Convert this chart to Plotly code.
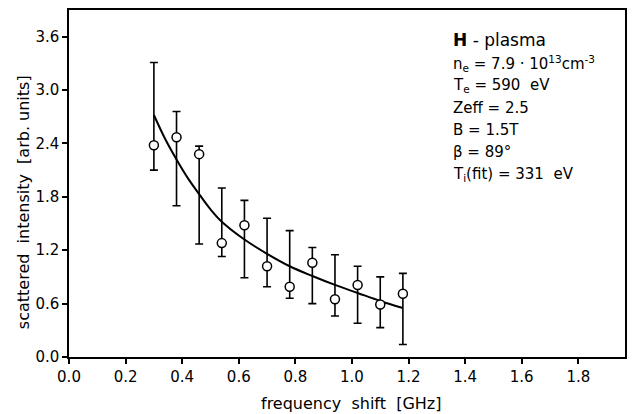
import plotly.graph_objects as go

# Measured data
freq = [0.30, 0.38, 0.46, 0.54, 0.62, 0.70, 0.78, 0.86, 0.94, 1.02, 1.10, 1.18]
intensity = [2.38, 2.47, 2.28, 1.28, 1.48, 1.02, 0.79, 1.06, 0.65, 0.81, 0.59, 0.71]
err_hi = [3.31, 2.76, 2.37, 1.90, 1.76, 1.56, 1.42, 1.23, 1.15, 1.02, 0.90, 0.94]
err_lo = [2.10, 1.70, 1.27, 1.13, 0.89, 0.79, 0.66, 0.60, 0.46, 0.38, 0.33, 0.14]

# Fitted curve
fit_x = [0.30, 0.34, 0.38, 0.42, 0.46, 0.50, 0.54, 0.62, 0.70, 0.78, 0.86, 0.94, 1.02, 1.10, 1.18]
fit_y = [2.72, 2.45, 2.22, 2.01, 1.83, 1.66, 1.52, 1.32, 1.16, 1.02, 0.91, 0.81, 0.72, 0.63, 0.55]

x_ticks = [0.0, 0.2, 0.4, 0.6, 0.8, 1.0, 1.2, 1.4, 1.6, 1.8]
y_ticks = [0.0, 0.6, 1.2, 1.8, 2.4, 3.0, 3.6]

x_title = "frequency  shift  [GHz]"
y_title = "scattered  intensity  [arb. units]"

info_lines = [
    "<b>H</b> - plasma",
    "n<sub>e</sub> = 7.9 · 10<sup>13</sup>cm<sup>-3</sup>",
    "T<sub>e</sub> = 590  eV",
    "Zeff = 2.5",
    "B = 1.5T",
    "β = 89°",
    "T<sub>i</sub>(fit) = 331  eV",
]

FONT = "DejaVu Sans"

fig = go.Figure()
fig.add_trace(go.Scatter(
    x=fit_x, y=fit_y, mode="lines", line=dict(color="black", width=2, shape="spline"),
    showlegend=False, hoverinfo="skip"))
fig.add_trace(go.Scatter(
    x=freq, y=intensity, mode="markers",
    marker=dict(symbol="circle", size=9, color="white", line=dict(color="black", width=1.5)),
    error_y=dict(type="data", symmetric=False,
                 array=[h - v for h, v in zip(err_hi, intensity)],
                 arrayminus=[v - l for v, l in zip(intensity, err_lo)],
                 color="black", thickness=1.6, width=4),
    showlegend=False))

axis_common = dict(showline=True, linecolor="black", linewidth=1.5, mirror=True,
                   ticks="outside", ticklen=5, tickwidth=1.5, tickcolor="black",
                   showgrid=False, zeroline=False,
                   tickfont=dict(family=FONT, size=15, color="black"))

fig.update_xaxes(range=[0, 1.965], tickvals=x_ticks, ticktext=[f"{v:.1f}" for v in x_ticks],
                 **axis_common)
fig.update_yaxes(range=[0, 3.9], tickvals=y_ticks, ticktext=[f"{v:.1f}" for v in y_ticks],
                 **axis_common)

# axis titles
fig.add_annotation(text=x_title, xref="paper", yref="paper",
                   x=(352 - 69) / 558, y=-(403 - 357) / 347, xanchor="center", yanchor="middle",
                   showarrow=False, font=dict(family=FONT, size=16, color="black"))
fig.add_annotation(text=y_title, xref="paper", yref="paper", textangle=-90,
                   x=-(69 - 24) / 558, y=(357 - 202) / 347, xanchor="center", yanchor="middle",
                   showarrow=False, font=dict(family=FONT, size=16, color="black"))

line_pix = [40, 63, 86, 108, 130, 152, 174]
for txt, yp in zip(info_lines, line_pix):
    fig.add_annotation(text=txt, xref="paper", yref="paper",
                       x=(452 - 69) / 558, y=(357 - yp) / 347,
                       xanchor="left", yanchor="middle", showarrow=False,
                       font=dict(family=FONT, size=17 if txt.startswith("<b>") else 15, color="black"))

fig.update_layout(width=633, height=414, margin=dict(l=69, r=6, t=10, b=57),
                  plot_bgcolor="white", paper_bgcolor="white",
                  font=dict(family=FONT, color="black"))
fig.write_html("out.html", config={"displayModeBar": False},
               post_script="document.body.style.margin='0px';")
